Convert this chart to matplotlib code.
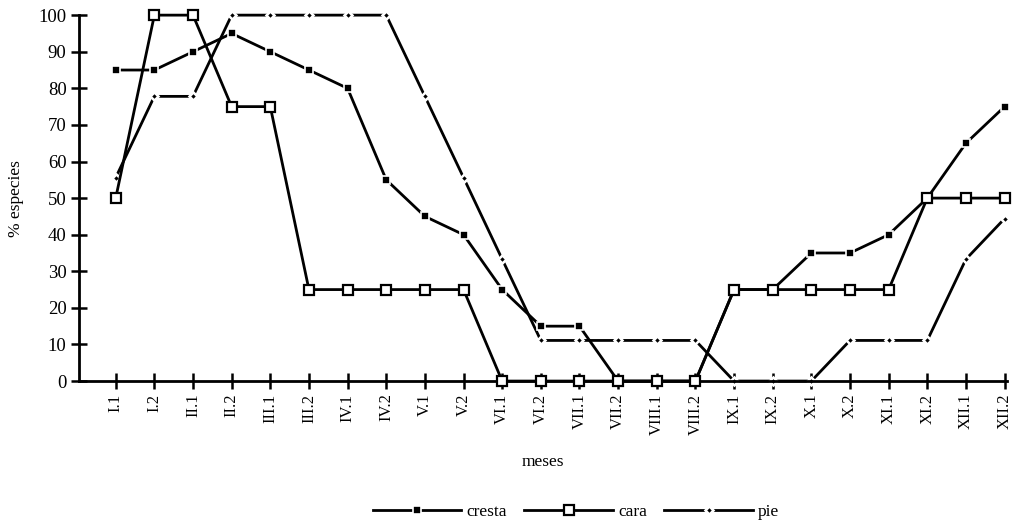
import matplotlib
matplotlib.use("Agg")
import matplotlib.pyplot as plt

plt.rcParams['font.family'] = ['Liberation Serif', 'DejaVu Serif']

# datos
meses = ["I.1", "I.2", "II.1", "II.2", "III.1", "III.2", "IV.1", "IV.2",
         "V.1", "V.2", "VI.1", "VI.2", "VII.1", "VII.2", "VIII.1", "VIII.2",
         "IX.1", "IX.2", "X.1", "X.2", "XI.1", "XI.2", "XII.1", "XII.2"]
cresta = [85, 85, 90, 95, 90, 85, 80, 55, 45, 40, 25, 15, 15, 0, 0, 0,
          25, 25, 35, 35, 40, 50, 65, 75]
cara = [50, 100, 100, 75, 75, 25, 25, 25, 25, 25, 0, 0, 0, 0, 0, 0,
        25, 25, 25, 25, 25, 50, 50, 50]
pie = [55.6, 77.8, 77.8, 100, 100, 100, 100, 100, 77.8, 55.6, 33.3, 11.1,
       11.1, 11.1, 11.1, 11.1, 0, 0, 0, 11.1, 11.1, 11.1, 33.3, 44.4]

x = list(range(len(meses)))

fig = plt.figure(figsize=(10.26, 5.22), dpi=100)
ax = fig.add_axes([0.077, 0.270, 0.904, 0.701])

ax.plot(x, pie, "-", color="black", lw=2, marker="D", ms=4,
        mfc="black", mec="white", mew=1.8, label="pie", zorder=2, clip_on=False)
ax.plot(x, cresta, "-", color="black", lw=2, marker="s", ms=5.5,
        mfc="black", mec="white", mew=1.2, label="cresta", zorder=3, clip_on=False)
ax.plot(x, cara, "-", color="black", lw=2, marker="s", ms=7,
        mfc="white", mec="black", mew=1.6, label="cara", zorder=4, clip_on=False)

ax.set_xlim(-0.95, 23.05)
ax.set_ylim(0, 100)
ax.set_yticks(range(0, 101, 10))
ax.set_xticks(x)
ax.set_xticklabels(meses, rotation=90)
ax.tick_params(direction="inout", length=11, width=1.8, labelsize=12)
ax.tick_params(axis="y", labelsize=13.5)
ax.spines["top"].set_visible(False)
ax.spines["right"].set_visible(False)
ax.spines["left"].set_linewidth(2)
ax.spines["bottom"].set_linewidth(2)
ax.set_ylabel("% especies", fontsize=12.5, labelpad=10)
ax.set_xlabel("meses", fontsize=12.5, labelpad=14)

h, l = ax.get_legend_handles_labels()
orden = [1, 2, 0]
fig.legend([h[i] for i in orden], [l[i] for i in orden], loc="center",
           bbox_to_anchor=(576 / 1026, 1 - 512 / 522), ncol=3, frameon=False,
           handlelength=5.1, handletextpad=0.3, columnspacing=1.0, fontsize=12.5)

fig.savefig("out.png", dpi=100)
